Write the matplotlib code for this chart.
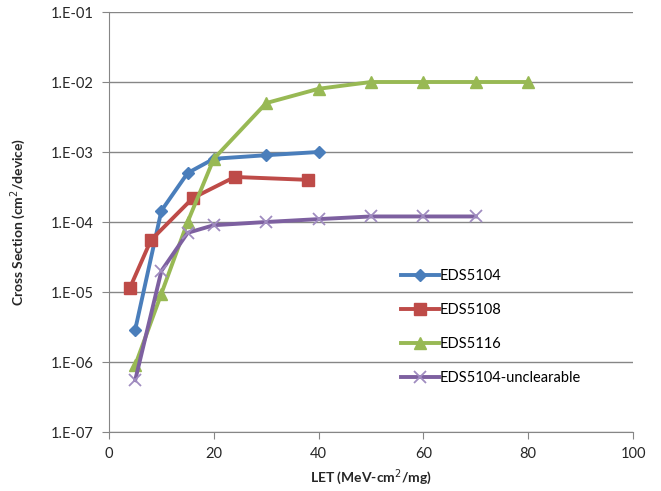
#!/usr/bin/env python

import numpy as np
import matplotlib
matplotlib.use('Agg')
import matplotlib.pyplot as plt
from matplotlib.ticker import FixedLocator, FuncFormatter

# ======================================
# Data
# ======================================
let_5104 = [5, 10, 15, 20, 30, 40]
xs_5104  = [2.9e-6, 1.45e-4, 5.0e-4, 8.0e-4, 9.0e-4, 1.0e-3]

let_5108 = [4, 8, 16, 24, 38]
xs_5108  = [1.15e-5, 5.5e-5, 2.2e-4, 4.4e-4, 4.0e-4]

let_5116 = [5, 10, 15, 20, 30, 40, 50, 60, 70, 80]
xs_5116  = [9.0e-7, 9.5e-6, 1.0e-4, 8.0e-4, 5.0e-3, 8.0e-3, 1.0e-2, 1.0e-2, 1.0e-2, 1.0e-2]

let_unc = [5, 10, 15, 20, 30, 40, 50, 60, 70]
xs_unc  = [5.5e-7, 2.0e-5, 7.0e-5, 9.0e-5, 1.0e-4, 1.1e-4, 1.2e-4, 1.2e-4, 1.2e-4]

names = ['EDS5104', 'EDS5108', 'EDS5116', 'EDS5104-unclearable']

# ======================================
# Plot
# ======================================
plt.rcParams['font.family'] = ['Lato', 'DejaVu Sans']
gray = '#868686'

fig = plt.figure(figsize=(6.61, 4.91), dpi=100)
ax = fig.add_axes([109/661., 59/491., 524/661., 420/491.])

ax.plot(let_5104, xs_5104, '-D', color='#4A7EBB', lw=2.8, ms=6.5, mec='#4A7EBB', label=names[0])
ax.plot(let_5108, xs_5108, '-s', color='#BE4B48', lw=2.8, ms=9, mec='#BE4B48', label=names[1])
ax.plot(let_5116, xs_5116, '-^', color='#98B954', lw=2.8, ms=9, mec='#98B954', label=names[2])
ax.plot(let_unc, xs_unc, '-x', color='#7D60A0', lw=2.8, ms=9, mew=1.3, mec='#A08CC0', label=names[3])

ax.set_yscale('log')
ax.set_ylim(1e-7, 1e-1)
ax.set_xlim(0, 100)
ax.yaxis.set_major_locator(FixedLocator([10.0**k for k in range(-7, 0)]))
ax.yaxis.set_minor_locator(FixedLocator([]))
ax.yaxis.set_major_formatter(FuncFormatter(lambda v, p: '1.E-%02d' % int(round(-np.log10(v)))))
ax.set_xticks([0, 20, 40, 60, 80, 100])

ax.grid(axis='y', color=gray, lw=1.0)
ax.set_axisbelow(True)
for s in ['top', 'right']:
	ax.spines[s].set_visible(False)
for s in ['left', 'bottom']:
	ax.spines[s].set_color(gray)
ax.tick_params(axis='both', colors=gray, labelcolor='#262626', labelsize=10.5, length=5, direction='out')
ax.tick_params(axis='x', pad=6)
ax.tick_params(axis='y', pad=6)

ax.set_xlabel('LET (MeV-cm$^2$/mg)', fontsize=10, fontweight='bold', color='#262626', labelpad=4)
ax.set_ylabel('Cross Section (cm$^2$/device)', fontsize=10, fontweight='bold', color='#262626', labelpad=16)

ax.legend(loc='upper left', bbox_to_anchor=(388/661., 1 - 256/491.), bbox_transform=fig.transFigure,
	frameon=False, fontsize=10.5, labelspacing=1.38, handlelength=2.6, handletextpad=0.05)

fig.savefig('out.png', dpi=100)
